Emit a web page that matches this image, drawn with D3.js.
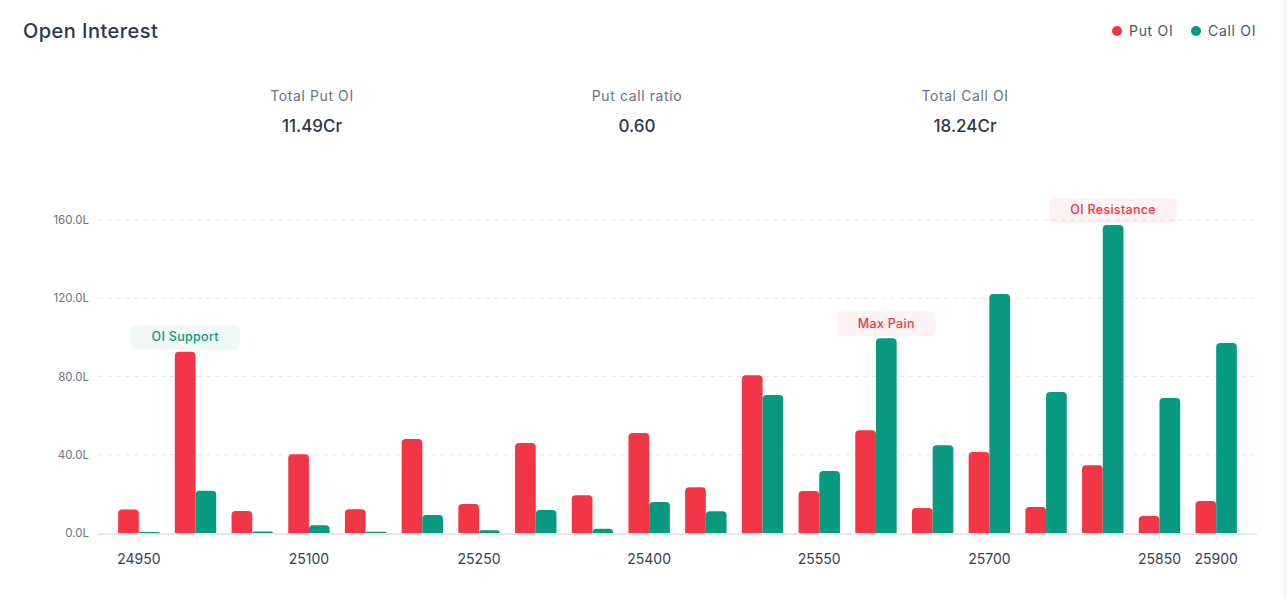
<!DOCTYPE html>
<html>
<head>
<meta charset="utf-8">
<script src="https://cdn.jsdelivr.net/npm/d3@7"></script>
<style>
  html, body { margin: 0; padding: 0; background: #fff; }
  svg { display: block; font-family: Inter, "Open Sans", sans-serif; }
</style>
</head>
<body>
<svg id="chart" width="1287" height="599"></svg>
<script>
const strikes = [24950, 25000, 25050, 25100, 25150, 25200, 25250, 25300, 25350, 25400,
                 25450, 25500, 25550, 25600, 25650, 25700, 25750, 25800, 25850, 25900];
const putOI  = [12.0, 92.7, 11.2, 40.2, 12.1, 48.1, 14.8, 46.0, 19.3, 51.1,
                23.4, 80.6, 21.5, 52.5, 12.8, 41.4, 13.3, 34.6, 8.7, 16.4];
const callOI = [0.5, 21.6, 0.8, 3.9, 0.6, 9.2, 1.4, 11.8, 2.2, 15.8,
                11.1, 70.6, 31.7, 99.5, 44.8, 122.2, 72.1, 157.5, 69.0, 97.1];
const yTicks = [0, 40, 80, 120, 160];
const xTickLabels = [24950, 25100, 25250, 25400, 25550, 25700, 25850, 25900];
const seriesNames = ["Put OI", "Call OI"];
const seriesColors = ["#f23645", "#089981"];
const statLabels = ["Total Put OI", "Put call ratio", "Total Call OI"];
const statValues = ["11.49Cr", "0.60", "18.24Cr"];
const annStrikes = [25000, 25600, 25800];
const annSeries = [0, 1, 1];
const annTexts = ["OI Support", "Max Pain", "OI Resistance"];

const svg = d3.select("#chart");

// scrollbar-like strip at right edge
svg.append("rect").attr("x", 1282).attr("y", 0).attr("width", 5).attr("height", 599).attr("fill", "#f7f8fa");

// title
svg.append("text").attr("x", 23).attr("y", 38).text("Open Interest")
  .attr("font-size", 20).attr("font-weight", 500).attr("letter-spacing", 0.45).attr("fill", "#2d3748");

// legend
const legX = [1117, 1196];
seriesNames.forEach((n, i) => {
  svg.append("circle").attr("cx", legX[i]).attr("cy", 31).attr("r", 5).attr("fill", seriesColors[i]);
  svg.append("text").attr("x", legX[i] + 12).attr("y", 36).text(n)
    .attr("font-size", 14).attr("letter-spacing", 0.7).attr("fill", "#4a5568");
});

// stats
const statX = [312, 637, 965];
statLabels.forEach((l, i) => {
  svg.append("text").attr("x", statX[i]).attr("y", 101).attr("text-anchor", "middle")
    .text(l).attr("font-size", 14).attr("letter-spacing", 0.6).attr("fill", "#6b7280");
  svg.append("text").attr("x", statX[i]).attr("y", 132).attr("text-anchor", "middle")
    .text(statValues[i]).attr("font-size", 17).attr("font-weight", 500).attr("fill", "#2d3748");
});

// scales
const x0 = d3.scaleBand().domain(strikes).range([98, 1257]).paddingInner(0).paddingOuter(0.22);
const x1 = d3.scaleBand().domain([0, 1]).range([0, x0.bandwidth()]).paddingInner(0).paddingOuter(0.37);
const y = d3.scaleLinear().domain([0, 160]).range([533, 220]);

// gridlines
svg.append("g").selectAll("line").data(yTicks.filter(d => d > 0)).join("line")
  .attr("x1", 98).attr("x2", 1257)
  .attr("y1", d => y(d)).attr("y2", d => y(d))
  .attr("stroke", "#e5e7eb").attr("stroke-width", 1).attr("stroke-dasharray", "5,4");

// y axis labels
svg.append("g").selectAll("text").data(yTicks).join("text")
  .attr("x", 89).attr("y", d => y(d) + 4).attr("text-anchor", "end")
  .text(d => d3.format(".1f")(d) + "L")
  .attr("font-size", 11.5).attr("fill", "#6b7280");

// bars
function topRounded(x, yTop, w, h, r) {
  r = Math.min(r, h, w / 2);
  if (h <= 0) return "";
  return `M${x},${yTop + h} L${x},${yTop + r} Q${x},${yTop} ${x + r},${yTop} L${x + w - r},${yTop} Q${x + w},${yTop} ${x + w},${yTop + r} L${x + w},${yTop + h} Z`;
}
const data = [];
strikes.forEach((s, i) => {
  data.push({ s, k: 0, v: putOI[i] });
  data.push({ s, k: 1, v: callOI[i] });
});
svg.append("g").selectAll("path").data(data).join("path")
  .attr("d", d => topRounded(x0(d.s) + x1(d.k), y(d.v), x1.bandwidth(), y(0) - y(d.v), 4))
  .attr("fill", d => seriesColors[d.k]);

// x axis line
svg.append("line").attr("x1", 98).attr("x2", 1257).attr("y1", 534).attr("y2", 534)
  .attr("stroke", "#e5e7eb").attr("stroke-width", 2);

// x ticks & labels
const xt = svg.append("g");
xTickLabels.forEach(s => {
  const cx = x0(s) + x0.bandwidth() / 2;
  xt.append("line").attr("x1", cx).attr("x2", cx).attr("y1", 535).attr("y2", 541)
    .attr("stroke", "#e5e7eb").attr("stroke-width", 1);
  xt.append("text").attr("x", cx).attr("y", 564).attr("text-anchor", "middle")
    .text(s).attr("font-size", 14).attr("fill", "#374151");
});

// annotations
annTexts.forEach((t, i) => {
  const k = annSeries[i];
  const idx = strikes.indexOf(annStrikes[i]);
  const v = k === 0 ? putOI[idx] : callOI[idx];
  const cx = x0(annStrikes[i]) + x1(k) + x1.bandwidth() / 2;
  const bottom = y(v) - 2;
  const g = svg.append("g");
  const rect = g.append("rect");
  const txt = g.append("text").attr("x", cx).attr("y", bottom - 8.5).attr("text-anchor", "middle")
    .text(t).attr("font-size", 12.5).attr("font-weight", 500).attr("letter-spacing", 0.3)
    .attr("fill", k === 0 ? "#089981" : "#f23645");
  const w = txt.node().getComputedTextLength() + 42;
  rect.attr("x", cx - w / 2).attr("y", bottom - 25).attr("width", w).attr("height", 25)
    .attr("rx", 5)
    .attr("fill", k === 0 ? "rgba(8,153,129,0.06)" : "rgba(242,54,69,0.06)");
});
</script>
</body>
</html>
